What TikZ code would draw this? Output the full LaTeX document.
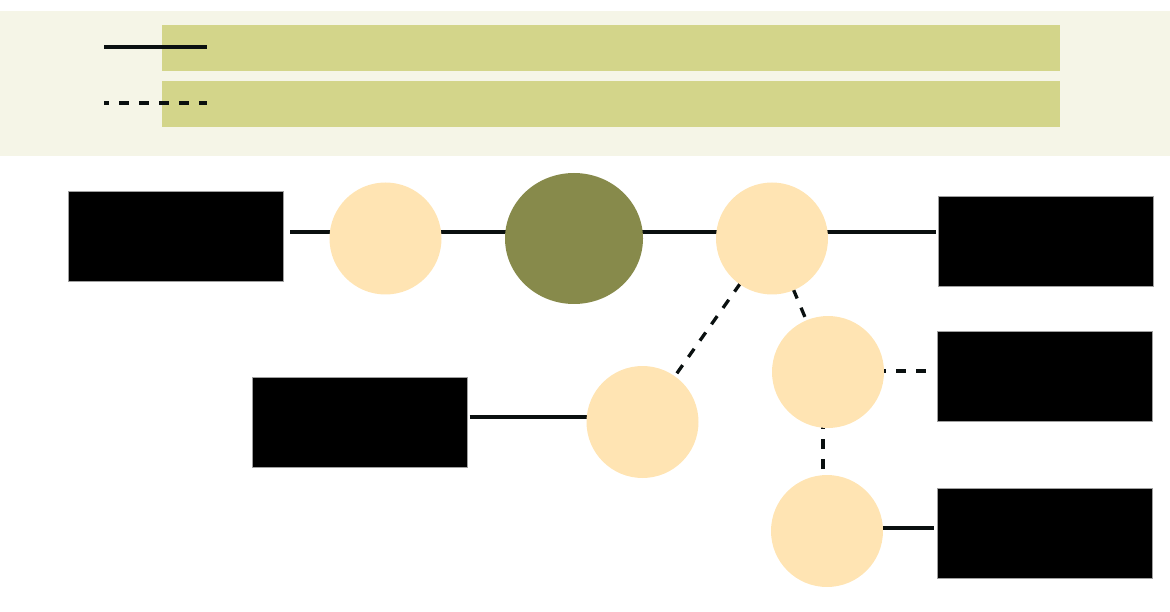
\documentclass[tikz,border=0pt]{standalone}
\usetikzlibrary{backgrounds,calc}
\definecolor{legbg}{HTML}{F5F5E7}
\definecolor{bar}{HTML}{D3D58A}
\definecolor{peach}{HTML}{FFE4B3}
\definecolor{olive}{HTML}{878A4B}
\definecolor{ink}{HTML}{0A1010}
\definecolor{boxedge}{HTML}{A0A0A0}
\tikzset{
  blackbox/.style={draw=boxedge, line width=1pt, fill=black, minimum width=215pt, minimum height=90pt, inner sep=0pt},
  peachnode/.style={circle, fill=peach, minimum size=112pt, inner sep=0pt},
  hubnode/.style={ellipse, fill=olive, minimum width=138pt, minimum height=131pt, inner sep=0pt},
  solidconn/.style={draw=ink, line width=3.3pt},
  dashconn/.style={draw=ink, line width=3.3pt, dash pattern=on 10pt off 10pt, dash phase=5pt},
  barbox/.style={fill=bar, draw=none}
}
\usetikzlibrary{shapes.geometric}
\begin{document}
\begin{tikzpicture}[x=1pt, y=-1pt]
\useasboundingbox (0,0) rectangle (1170,612);
% legend
\fill[legbg] (0,11) rectangle (1170,156);
\fill[bar] (162,25) rectangle (1060,71);
\fill[bar] (162,81) rectangle (1060,127);
\coordinate (ls1) at (104,47); \coordinate (ls2) at (207,47);
\coordinate (ld1) at (104,103); \coordinate (ld2) at (207,103);
\draw[solidconn] (ls1) -- (ls2);
\draw[dashconn] (ld1) -- (ld2);
% nodes
\node[blackbox] (A) at (176,236.5) {};
\node[peachnode] (c1) at (385.5,238.5) {};
\node[hubnode] (hub) at (574,238.5) {};
\node[peachnode] (c2) at (772,238.5) {};
\node[blackbox] (B) at (1045.5,242) {};
\node[peachnode] (c3) at (828,372) {};
\node[blackbox] (C) at (1044.5,376.5) {};
\node[peachnode] (c4) at (642.5,422) {};
\node[blackbox] (D) at (359.5,422) {};
\node[peachnode] (c5) at (827,531) {};
\node[blackbox] (E) at (1044.5,533) {};
% connectors
\begin{pgfonlayer}{background}
\draw[solidconn] ([xshift=6pt]A.east |- 0,232) -- (c1.center |- 0,232);
\draw[solidconn] (c1.center |- 0,232) -- (hub.center |- 0,232);
\draw[solidconn] (hub.center |- 0,232) -- (c2.center |- 0,232);
\draw[solidconn] (c2.center |- 0,232) -- ([xshift=-2pt]B.west |- 0,232);
\draw[dashconn] (c2.center) -- (c4.center);
\draw[dashconn] (c2.center) -- (c3.center);
\draw[dashconn, dash phase=12pt] (c3.center |- 0,371) -- ([xshift=-10pt]C.west |- 0,371);
\draw[dashconn, dash phase=13pt] (823,372) -- (823,469);
\draw[solidconn] (c5.center |- 0,528) -- ([xshift=-3pt]E.west |- 0,528);
\draw[solidconn] ([xshift=2pt]D.east |- 0,417) -- (c4.center |- 0,417);
\end{pgfonlayer}
\end{tikzpicture}
\end{document}
